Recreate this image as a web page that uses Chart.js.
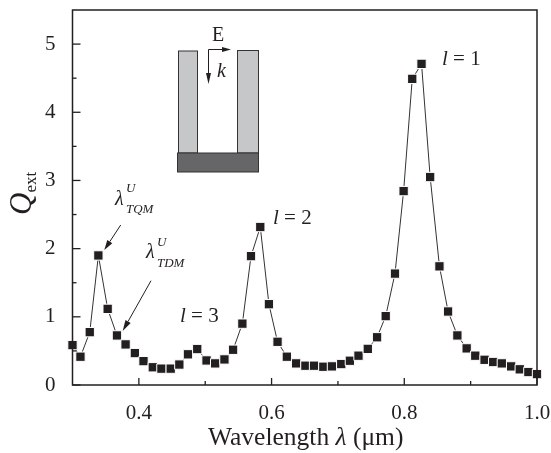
<!DOCTYPE html>
<html>
<head>
<meta charset="utf-8">
<title>Extinction spectrum</title>
<script src="https://cdn.jsdelivr.net/npm/chart.js@4"></script>
<style>
    html, body { margin: 0; padding: 0; background: #fff; }
    canvas { display: block; }
</style>
</head>
<body>
<canvas id="chart" width="551" height="453"></canvas>
<script>
// values
const wavelengths = [0.300, 0.312, 0.326, 0.339, 0.353, 0.367, 0.380, 0.394, 0.407, 0.421, 0.434, 0.448, 0.461, 0.474, 0.488, 0.502, 0.515, 0.529, 0.542, 0.556, 0.569, 0.583, 0.596, 0.609, 0.623, 0.637, 0.651, 0.664, 0.678, 0.691, 0.705, 0.718, 0.731, 0.745, 0.759, 0.772, 0.786, 0.799, 0.812, 0.826, 0.839, 0.853, 0.866, 0.880, 0.894, 0.907, 0.921, 0.934, 0.947, 0.961, 0.974, 0.987, 1.000];
const qExt = [0.585, 0.415, 0.775, 1.90, 1.117, 0.727, 0.595, 0.468, 0.35, 0.26, 0.24, 0.24, 0.30, 0.45, 0.527, 0.36, 0.317, 0.375, 0.517, 0.90, 1.89, 2.317, 1.185, 0.634, 0.415, 0.317, 0.283, 0.283, 0.268, 0.273, 0.307, 0.356, 0.43, 0.53, 0.70, 1.01, 1.634, 2.844, 4.49, 4.71, 3.05, 1.74, 1.078, 0.727, 0.537, 0.43, 0.37, 0.337, 0.317, 0.273, 0.23, 0.19, 0.16];
const xTicks = [0.4, 0.6, 0.8, 1.0];
const xMinorTicks = [0.5, 0.7, 0.9];
const yTicks = [0, 1, 2, 3, 4, 5];
const yMinorTicks = [0.5, 1.5, 2.5, 3.5, 4.5];

const ink = '#231f20';
const serif = '"Liberation Serif", serif';

// draws runs of text one after another, each run has its own font and offset
function drawRuns(ctx, x, y, runs) {
    ctx.textAlign = 'left';
    ctx.textBaseline = 'alphabetic';
    ctx.fillStyle = ink;
    let pos = x;
    runs.forEach(run => {
        ctx.font = run.font;
        ctx.fillText(run.text, pos + (run.dx || 0), y + (run.dy || 0));
        pos += ctx.measureText(run.text).width + (run.dx || 0);
    });
}

function drawArrow(ctx, x1, y1, x2, y2, headLen, headWidth) {
    const angle = Math.atan2(y2 - y1, x2 - x1);
    ctx.strokeStyle = ink;
    ctx.fillStyle = ink;
    ctx.lineWidth = 1;
    ctx.beginPath();
    ctx.moveTo(x1, y1);
    ctx.lineTo(x2 - headLen * Math.cos(angle), y2 - headLen * Math.sin(angle));
    ctx.stroke();
    ctx.save();
    ctx.translate(x2, y2);
    ctx.rotate(angle);
    ctx.beginPath();
    ctx.moveTo(0, 0);
    ctx.lineTo(-headLen, -headWidth / 2);
    ctx.lineTo(-headLen, headWidth / 2);
    ctx.closePath();
    ctx.fill();
    ctx.restore();
}

// stops the scales from asking for room around their first and last labels
function noScalePadding(scale) {
    scale.paddingLeft = 0;
    scale.paddingRight = 0;
    scale.paddingTop = 0;
    scale.paddingBottom = 0;
}

const framePlugin = {
    id: 'frame',
    afterDatasetsDraw(chart) {
        const { ctx, chartArea: area, scales } = chart;
        ctx.save();
        ctx.strokeStyle = ink;

        // frame
        ctx.lineWidth = 1.5;
        ctx.strokeRect(area.left, area.top, area.right - area.left, area.bottom - area.top);

        // inward ticks
        const tick = (x1, y1, x2, y2) => {
            ctx.beginPath();
            ctx.moveTo(x1, y1);
            ctx.lineTo(x2, y2);
            ctx.stroke();
        };
        ctx.lineWidth = 1.3;
        xTicks.forEach(v => { const x = scales.x.getPixelForValue(v); tick(x, area.bottom, x, area.bottom - 7); });
        xMinorTicks.forEach(v => { const x = scales.x.getPixelForValue(v); tick(x, area.bottom, x, area.bottom - 4); });
        yTicks.forEach(v => { const y = scales.y.getPixelForValue(v); tick(area.left, y, area.left + 8, y); });
        yMinorTicks.forEach(v => { const y = scales.y.getPixelForValue(v); tick(area.left, y, area.left + 4, y); });
        ctx.restore();
    },
    afterDraw(chart) {
        const { ctx } = chart;
        ctx.save();

        // inset sketch
        ctx.strokeStyle = '#333';
        ctx.lineWidth = 1;
        ctx.fillStyle = '#c6c7c9';
        ctx.fillRect(178.5, 51, 19, 102);
        ctx.strokeRect(178.5, 51, 19, 102);
        ctx.fillRect(237.5, 50.5, 21, 102.5);
        ctx.strokeRect(237.5, 50.5, 21, 102.5);
        ctx.fillStyle = '#666567';
        ctx.fillRect(177.5, 153, 81, 19);
        ctx.strokeRect(177.5, 153, 81, 19);
        drawArrow(ctx, 208.5, 49.5, 231, 49.5, 9, 5);
        drawArrow(ctx, 208.5, 49.5, 208.5, 84, 11, 5);
        drawRuns(ctx, 212, 41, [{ text: 'E', font: '20px ' + serif }]);
        drawRuns(ctx, 217, 77, [{ text: 'k', font: 'italic 20px ' + serif }]);

        // peak labels
        const big = '21px ' + serif;
        const bigIt = 'italic 21px ' + serif;
        drawRuns(ctx, 180, 322, [{ text: 'l', font: bigIt }, { text: ' = 3', font: big }]);
        drawRuns(ctx, 273, 224, [{ text: 'l', font: bigIt }, { text: ' = 2', font: big }]);
        drawRuns(ctx, 442, 65, [{ text: 'l', font: bigIt }, { text: ' = 1', font: big }]);

        // mode labels
        const lam = 'italic 20px ' + serif;
        const small = 'italic 13px ' + serif;
        drawRuns(ctx, 115, 205, [{ text: 'λ', font: lam }]);
        drawRuns(ctx, 126, 192, [{ text: 'U', font: small }]);
        drawRuns(ctx, 126, 213, [{ text: 'TQM', font: small }]);
        drawRuns(ctx, 146, 258, [{ text: 'λ', font: lam }]);
        drawRuns(ctx, 157, 246, [{ text: 'U', font: small }]);
        drawRuns(ctx, 157, 267, [{ text: 'TDM', font: small }]);
        drawArrow(ctx, 120.7, 225, 104.3, 250, 10, 6);
        drawArrow(ctx, 151, 280.7, 122.7, 331, 11, 6);

        // axis titles
        drawRuns(ctx, 208, 445, [
            { text: 'Wavelength ', font: '25.5px ' + serif },
            { text: 'λ', font: 'italic 25.5px ' + serif },
            { text: ' (μm)', font: '25.5px ' + serif }
        ]);
        ctx.translate(31, 215);
        ctx.rotate(-Math.PI / 2);
        drawRuns(ctx, 0, 0, [
            { text: 'Q', font: 'italic 31px ' + serif },
            { text: 'ext', font: '17px ' + serif, dy: 5 }
        ]);
        ctx.restore();
    }
};

new Chart(document.getElementById('chart'), {
    type: 'line',
    data: {
        datasets: [{
            data: wavelengths.map((x, i) => ({ x: x, y: qExt[i] })),
            borderColor: '#333',
            borderWidth: 1,
            tension: 0,
            pointStyle: 'rect',
            pointRadius: 6.6,
            pointBackgroundColor: ink,
            pointBorderColor: '#fff',
            pointBorderWidth: 1,
            clip: false
        }]
    },
    options: {
        responsive: false,
        animation: false,
        events: [],
        layout: { padding: { left: 0, top: 10, right: 14, bottom: 0 } },
        plugins: { legend: { display: false }, tooltip: { enabled: false } },
        scales: {
            x: {
                type: 'linear',
                min: 0.3,
                max: 1.0,
                grid: { display: false },
                border: { display: false },
                afterBuildTicks: scale => { scale.ticks = xTicks.map(v => ({ value: v })); },
                afterFit: scale => { scale.height = 68; noScalePadding(scale); },
                ticks: {
                    color: ink,
                    padding: 8,
                    maxRotation: 0,
                    font: { family: 'Liberation Serif', size: 21 },
                    callback: v => v.toFixed(1)
                }
            },
            y: {
                type: 'linear',
                min: 0,
                max: 5.5,
                grid: { display: false },
                border: { display: false },
                afterBuildTicks: scale => { scale.ticks = yTicks.map(v => ({ value: v })); },
                afterFit: scale => { scale.width = 72.5; noScalePadding(scale); },
                ticks: {
                    color: ink,
                    padding: 9,
                    font: { family: 'Liberation Serif', size: 21 }
                }
            }
        }
    },
    plugins: [framePlugin]
});
</script>
</body>
</html>
